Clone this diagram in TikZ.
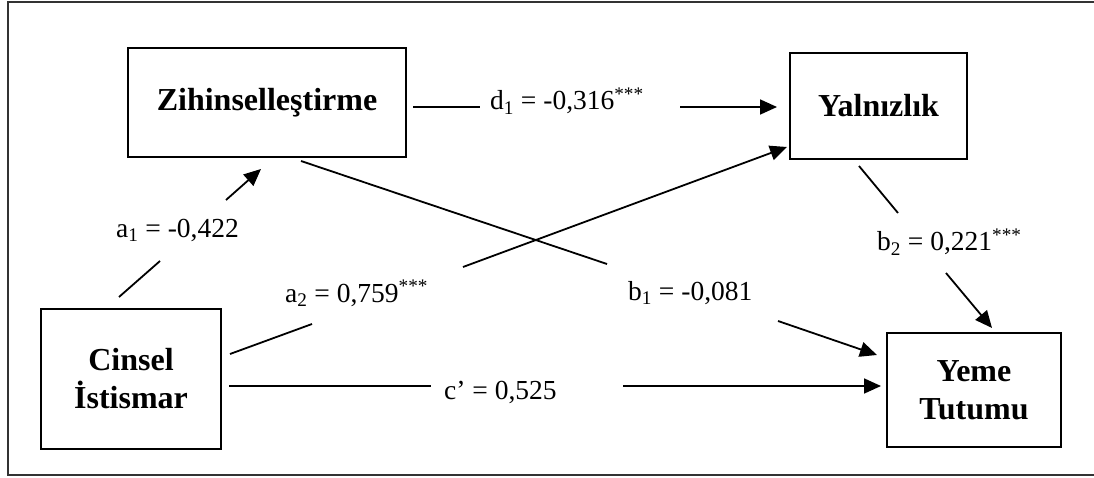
\documentclass[tikz,border=0pt]{standalone}
\usepackage{fontspec}
\setmainfont{Liberation Serif}
\usetikzlibrary{arrows.meta}
\begin{document}
\begin{tikzpicture}[x=1pt,y=-1pt,
  varbox/.style={draw, line width=2.2pt, inner sep=0pt, align=center,
    font=\fontsize{32}{38}\selectfont\bfseries},
  path/.style={line width=1.8pt},
  arr/.style={line width=1.8pt, -{Triangle[length=17pt,width=15pt]}},
  lbl/.style={anchor=base west, inner sep=0pt, font=\fontsize{27.5}{30}\selectfont}]
\useasboundingbox (0,0) rectangle (1094,478);
\draw[line width=1.5pt, black!80] (8,2) rectangle (1110,475);
% boxes
\node[varbox, minimum width=278pt, minimum height=109pt] (Z) at (267,102.5) {Zihinselleştirme};
\node[varbox, minimum width=177pt, minimum height=106pt] (Y) at (878.5,106) {Yalnızlık};
\node[varbox, minimum width=180pt, minimum height=140pt] (C) at (131,379) {Cinsel\\İstismar};
\node[varbox, minimum width=174pt, minimum height=114pt] (T) at (974,390) {Yeme\\Tutumu};
% labels
\node[lbl] (ld) at (490,110) {d\textsubscript{1} = -0,316\textsuperscript{***}};
\node[lbl] (la1) at (116,237) {a\textsubscript{1} = -0,422};
\node[lbl] (la2) at (285,302) {a\textsubscript{2} = 0,759\textsuperscript{***}};
\node[lbl] (lc) at (444,399) {c’ = 0,525};
\node[lbl] (lb1) at (628,300) {b\textsubscript{1} = -0,081};
\node[lbl] (lb2) at (877,251) {b\textsubscript{2} = 0,221\textsuperscript{***}};
% connector points
\coordinate (d1s) at (413,107); \coordinate (d1m) at (480,107);
\coordinate (d1n) at (680,107); \coordinate (d1e) at (777,107);
\coordinate (a1s) at (119,297); \coordinate (a1m) at (160,261);
\coordinate (a1n) at (226,200); \coordinate (a1e) at (261,169);
\coordinate (a2s) at (230,354); \coordinate (a2m) at (312,324);
\coordinate (a2n) at (463,267); \coordinate (a2e) at (787,147);
\coordinate (cs) at (229,386); \coordinate (cm) at (431,386);
\coordinate (cn) at (623,386); \coordinate (ce) at (881,386);
\coordinate (b1s) at (301,161); \coordinate (b1m) at (607,264);
\coordinate (b1n) at (778,321); \coordinate (b1e) at (877,355);
\coordinate (b2s) at (859,166); \coordinate (b2m) at (898,213);
\coordinate (b2n) at (946,273); \coordinate (b2e) at (992,328);
% connectors
\draw[path] (d1s) -- (d1m); \draw[arr] (d1n) -- (d1e);
\draw[path] (a1s) -- (a1m); \draw[arr] (a1n) -- (a1e);
\draw[path] (a2s) -- (a2m); \draw[arr] (a2n) -- (a2e);
\draw[path] (cs) -- (cm); \draw[arr] (cn) -- (ce);
\draw[path] (b1s) -- (b1m); \draw[arr] (b1n) -- (b1e);
\draw[path] (b2s) -- (b2m); \draw[arr] (b2n) -- (b2e);
\end{tikzpicture}
\end{document}
